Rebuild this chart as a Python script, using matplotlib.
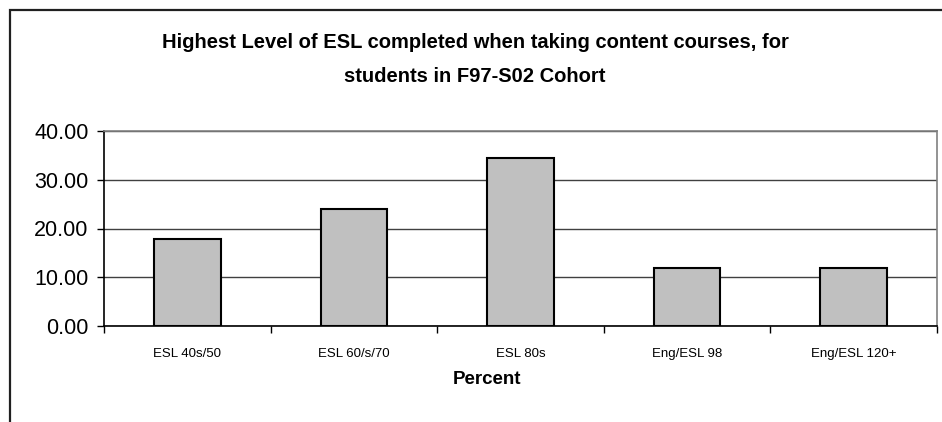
import numpy as np
import matplotlib
matplotlib.use('Agg')
import matplotlib.pyplot as plt
from matplotlib.patches import Rectangle

plt.rcParams['font.family'] = ['Liberation Sans', 'DejaVu Sans']

# data
levels = ['ESL 40s/50', 'ESL 60/s/70', 'ESL 80s', 'Eng/ESL 98', 'Eng/ESL 120+']
percent = [17.9, 23.9, 34.5, 12.0, 12.0]
yticks = [0, 10, 20, 30, 40]

fig = plt.figure(figsize=(9.42, 4.22), dpi=100)

# outer chart frame (right/bottom run off the image)
fig.patches.append(Rectangle((10 / 942, -0.1), 1.2, 1 - 10 / 422 + 0.1,
                             transform=fig.transFigure, fill=False,
                             edgecolor='#202020', linewidth=1.6))

ax = fig.add_axes([104 / 942, 96 / 422, 833 / 942, 195 / 422])

x = np.arange(len(levels))
ax.bar(x, percent, width=0.4, color='#c0c0c0', edgecolor='black',
       linewidth=1.5, zorder=3)

ax.set_xlim(-0.5, len(levels) - 0.5)
ax.set_ylim(0, 40)
ax.set_yticks(yticks)
ax.set_yticklabels(['%.2f' % v for v in yticks], fontsize=15.5)
ax.yaxis.grid(True, color='#404040', linewidth=1.0, zorder=0)

# x ticks sit between categories, labels in the middle
ax.set_xticks(np.arange(-0.5, len(levels)), minor=False)
ax.set_xticklabels([])
ax.set_xticks(x, minor=True)
ax.set_xticklabels(levels, minor=True, fontsize=9.5)
ax.tick_params(axis='x', which='major', length=5, color='black', width=1)
ax.tick_params(axis='x', which='minor', length=0, pad=16)
ax.tick_params(axis='y', length=5, width=1, pad=6)

for side in ['top', 'right']:
    ax.spines[side].set_color('#808080')
    ax.spines[side].set_linewidth(1.2)
ax.spines['left'].set_color('black')
ax.spines['bottom'].set_color('black')
ax.spines['left'].set_linewidth(1.2)
ax.spines['bottom'].set_linewidth(1.2)

fig.text(475 / 942, 1 - 43 / 422,
         'Highest Level of ESL completed when taking content courses, for',
         ha='center', va='center', fontsize=14.5, fontweight='bold')
fig.text(475 / 942, 1 - 76 / 422, 'students in F97-S02 Cohort',
         ha='center', va='center', fontsize=14.5, fontweight='bold')
fig.text(487 / 942, 1 - 380 / 422, 'Percent',
         ha='center', va='center', fontsize=13.5, fontweight='bold')

fig.savefig('out.png', dpi=100)
